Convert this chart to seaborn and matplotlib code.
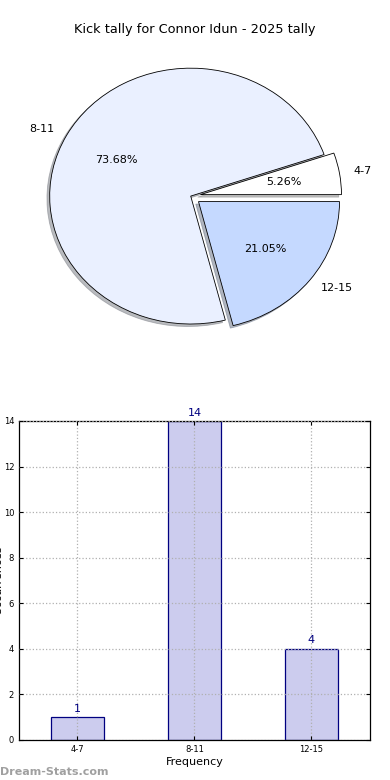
import pandas as pd
import numpy as np
import matplotlib
matplotlib.use('Agg')
import matplotlib.pyplot as plt
import seaborn as sns

# Datos
rangos = ['4-7', '8-11', '12-15']
cantidades = [1, 14, 4]
colores_torta = ['#ffffff', '#eaf0ff', '#c5d9ff']
separacion = [0.07, 0, 0.07]

sns.set_style('white')
plt.rcParams['font.family'] = ['DejaVu Sans']
plt.rcParams['text.color'] = 'black'
plt.rcParams['axes.labelcolor'] = 'black'
plt.rcParams['xtick.color'] = 'black'
plt.rcParams['ytick.color'] = 'black'

fig = plt.figure(figsize=(3.9, 7.8), dpi=100)

# Grafico de torta
ax1 = fig.add_axes([0.037, 0.5436, 0.904, 0.410])
wedges, textos, autotextos = ax1.pie(cantidades, labels=rangos, colors=colores_torta,
                                     explode=separacion, startangle=0,
                                     shadow={'ox': -0.014, 'oy': -0.014, 'shade': 0.5},
                                     autopct='%.2f%%',
                                     wedgeprops={'edgecolor': 'black', 'linewidth': 0.6},
                                     textprops={'fontsize': 8, 'color': 'black'})
ax1.set_aspect('auto')
ax1.set_xlim(-1.25, 1.25)
ax1.set_ylim(-1.25, 1.25)
ax1.axis('off')
fig.text(0.5, 1 - 30 / 780, 'Kick tally for Connor Idun - 2025 tally',
         ha='center', va='center', fontsize=9.3, color='black')

# Grafico de barras
df = pd.DataFrame({'rango': rangos, 'cantidad': cantidades})
ax2 = fig.add_axes([0.0487, 0.0513, 0.9, 0.409])
sns.barplot(data=df, x='rango', y='cantidad', color='#ccccee', saturation=1,
            edgecolor='#000080', linewidth=0.9, width=0.45, ax=ax2)
ax2.set_xlim(-0.5, 2.5)
ax2.set_ylim(0, 14)
ax2.set_yticks(range(0, 15, 2))
ax2.grid(True, linestyle=':', color='#b0b0b0', linewidth=0.9)
for p in ax2.patches:
    p.set_zorder(1)
ax2.set_axisbelow(False)
for spine in ax2.spines.values():
    spine.set_color('black')
    spine.set_linewidth(0.9)
ax2.tick_params(direction='in', length=3, labelsize=6, left=True, bottom=True, right=True, top=True,
                labelright=False, labeltop=False)
ax2.set_xlabel('Frequency', fontsize=8, labelpad=2)
ax2.set_ylabel('Occurrences', fontsize=8)
ax2.yaxis.set_label_coords(-0.045, 0.5)

for i, v in enumerate(cantidades):
    ax2.text(i, v + 0.15, str(v), ha='center', va='bottom', color='#000080', fontsize=8)

fig.text(0.0, 3 / 780, 'Dream-Stats.com', ha='left', va='bottom', fontsize=8,
         color='#a0a0a0', fontweight='semibold')

fig.savefig('out.png', dpi=100)
